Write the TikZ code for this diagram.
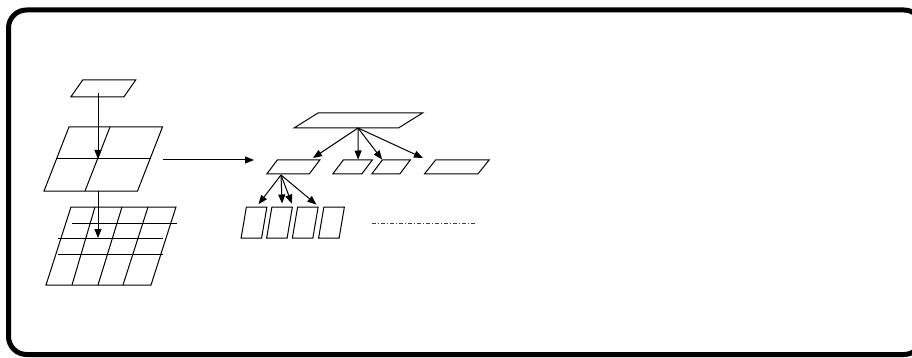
\documentclass[tikz,border=0pt]{standalone}
\usetikzlibrary{arrows.meta}
\tikzset{
  cell/.style={draw=black,line width=1pt,inner sep=0pt,minimum height=14pt},
  link/.style={-{Triangle[length=9pt,width=7pt]},draw=black,line width=1pt},
  gridline/.style={draw=black,line width=1pt}
}
\begin{document}
\begin{tikzpicture}[x=1pt,y=-1pt]
  \useasboundingbox (0,0) rectangle (912,358);
  \draw[line width=5pt,rounded corners=18pt] (8.5,10) rectangle (922,354.5);
  % left column: block split into 2x2 and 4x4
  \node[cell,minimum width=53pt,minimum height=17pt,xslant=0.7] (seed) at (103.25,88.5) {};
  \node[cell,minimum width=93.5pt,minimum height=64pt,xslant=0.39] (quad) at (103.25,159) {};
  \node[cell,minimum width=105pt,minimum height=78pt,xslant=0.32] (fine) at (111,246) {};
  \draw[gridline] (quad.west) -- (quad.east);
  \draw[gridline] (110,127) -- (85,191);
  \draw[gridline] (72,223) -- (177,223);
  \draw[gridline] (58,238) -- (163,238);
  \draw[gridline] (58,254) -- (163,254);
  \foreach \t/\b in {95/72,122/98,148/123}
    \draw[gridline] (\t,207) -- (\b,285);
  \coordinate (seedout) at (98,93);
  \coordinate (quadhit) at (98,159);
  \coordinate (quadout) at (98,191);
  \coordinate (finehit) at (98,238);
  \draw[link] (seedout) -- (quadhit);
  \draw[link] (quadout) -- (finehit);
  % right: tree of blocks
  \coordinate (split) at (163,160);
  \coordinate (treein) at (254,160);
  \draw[link] (split) -- (treein);
  \node[cell,minimum width=104.5pt,minimum height=15pt,xslant=1.6] (root) at (358.25,120.5) {};
  \node[cell,minimum width=42.5pt,xslant=0.75] (mid1) at (293.25,167) {};
  \node[cell,minimum width=29pt,xslant=0.75] (mid2) at (352.5,167) {};
  \node[cell,minimum width=28pt,xslant=0.75] (mid3) at (391,167) {};
  \node[cell,minimum width=53.5pt,xslant=0.8] (mid4) at (456.75,167) {};
  \foreach \x [count=\i] in {254,279.5,305.25,331.5}
    \node[cell,minimum width=20.5pt,minimum height=31pt,xslant=0.17] (box\i) at (\x,222.5) {};
  \coordinate (hub) at (358,128);
  \coordinate (hub2) at (281,175);
  \coordinate (mid1in) at (313,158);
  \coordinate (mid4in) at (423,158);
  \foreach \t in {mid1in,mid2.north,mid3.north west,mid4in}
    \draw[link] (hub) -- (\t);
  \foreach \t in {box1.north,box2.north,box2.north east,box3.north east}
    \draw[link,shorten >=3pt] (hub2) -- (\t);
  \draw[black!75,line width=0.7pt,dash pattern=on 4pt off 2pt on 1pt off 2pt] (372,223) -- (477,223);
\end{tikzpicture}
\end{document}
